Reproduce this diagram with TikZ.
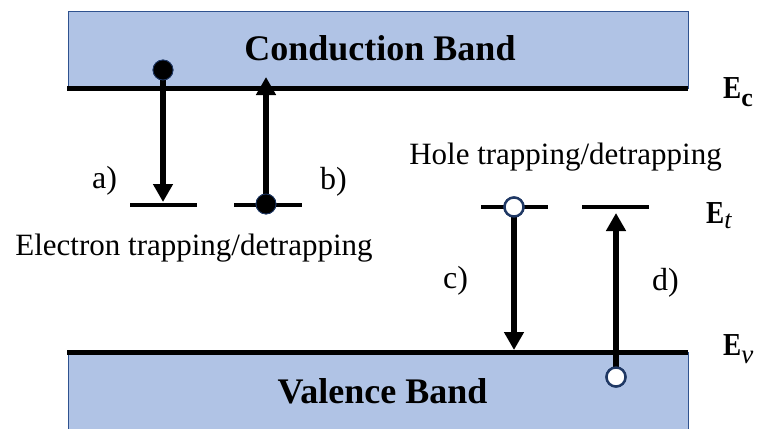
\documentclass[tikz,border=0pt]{standalone}
\usepackage{fontspec}
\setmainfont{Liberation Serif}
\usetikzlibrary{arrows.meta}
\definecolor{bandfill}{HTML}{B0C3E5}
\definecolor{bandedge}{HTML}{2F528F}
\definecolor{navy}{HTML}{1F3864}
\begin{document}
\begin{tikzpicture}[x=1pt,y=-1pt,
  band/.style={fill=bandfill,draw=bandedge,line width=0.8pt},
  bandedgeline/.style={line width=5pt},
  level/.style={line width=4pt},
  arr/.style={line width=5.5pt,-{Triangle[width=19pt,length=18pt]}},
  edot/.style={circle,fill=black,draw=navy,line width=0.8pt,minimum size=20pt,inner sep=0pt},
  hdot/.style={circle,fill=white,draw=navy,line width=2.4pt,minimum size=19pt,inner sep=0pt},
  bandtxt/.style={font=\fontsize{36}{36}\selectfont\bfseries,anchor=base,inner sep=0pt},
  lbl/.style={font=\fontsize{32}{32}\selectfont,anchor=base,inner sep=0pt},
  desc/.style={font=\fontsize{31}{31}\selectfont,anchor=base,inner sep=0pt},
  elbl/.style={font=\fontsize{32}{32}\selectfont\bfseries,anchor=base west,inner sep=0pt}]
\useasboundingbox (0,0) rectangle (759,428);

% bands
\draw[band] (68,11) rectangle (688,88);
\draw[band] (68,352) rectangle (688,440);
\coordinate (cl) at (67,88);  \coordinate (cr) at (688,88);
\coordinate (vl) at (67,352); \coordinate (vr) at (688,352);
\draw[bandedgeline] (cl) -- (cr);
\draw[bandedgeline] (vl) -- (vr);

\node[bandtxt] (cb) at (380,60) {Conduction Band};
\node[bandtxt] (vb) at (382.5,403) {Valence Band};

% trap levels
\coordinate (a1) at (130,205); \coordinate (a2) at (197,205);
\coordinate (b1) at (234,205); \coordinate (b2) at (302,205);
\coordinate (c1) at (481,207); \coordinate (c2) at (548,207);
\coordinate (d1) at (582,207); \coordinate (d2) at (649,207);
\draw[level] (a1) -- (a2);
\draw[level] (b1) -- (b2);
\draw[level] (c1) -- (c2);
\draw[level] (d1) -- (d2);

% carriers
\node[edot] (ea) at (163,70) {};
\node[edot] (eb) at (266,204) {};
\node[hdot] (hc) at (514,207) {};
\node[hdot] (hd) at (616,377) {};

\coordinate (ta) at (163,202);
\coordinate (tb) at (266,77);
\coordinate (tc) at (514,350);
\coordinate (td) at (616,213);

\draw[arr] (ea.center) -- (ta);
\draw[arr] (eb.center) -- (tb);
\draw[arr] (hc.center) -- (tc);
\draw[arr] (hd.center) -- (td);
\node[edot] at (ea) {};
\node[edot] at (eb) {};
\node[hdot] at (hc) {};
\node[hdot] at (hd) {};

% labels
\node[lbl] (la) at (104.5,188) {a)};
\node[lbl] (lb) at (333.5,189) {b)};
\node[lbl] (lc) at (455.5,288) {c)};
\node[lbl] (ld) at (665.5,290) {d)};

\node[desc] (et) at (194,255) {Electron trapping/detrapping};
\node[desc] (ht) at (565.5,164) {Hole trapping/detrapping};

\node[elbl] (Ec) at (723,98) {\scalebox{0.85}[1]{E}\raisebox{-8pt}{\fontsize{26}{26}\selectfont c}};
\node[elbl] (Et) at (706,223) {\scalebox{0.85}[1]{E}\raisebox{-5pt}{\fontsize{26}{26}\selectfont\mdseries\itshape t}};
\node[elbl] (Ev) at (723,355) {\scalebox{0.85}[1]{E}\raisebox{-8pt}{\fontsize{27}{27}\selectfont\mdseries\itshape v}};
\end{tikzpicture}
\end{document}
